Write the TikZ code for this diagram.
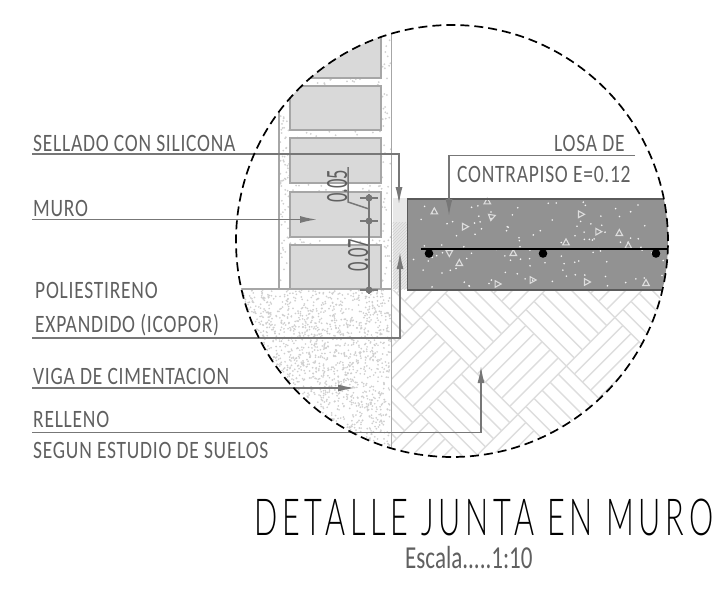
\documentclass[tikz,border=0pt]{standalone}
\usepackage{fontspec}
\usetikzlibrary{arrows.meta,patterns}
\newfontfamily\rotulofont[FakeStretch=0.78,LetterSpace=3]{Carlito}
\newfontfamily\cotafont[FakeStretch=0.6]{Carlito}
\newfontfamily\escalafont[FakeStretch=0.72]{Carlito}
\newfontfamily\titulofont[FakeStretch=0.6,LetterSpace=9.4]{Lato Light}
\definecolor{texto}{HTML}{606060}
\definecolor{guia}{HTML}{777777}
\definecolor{muro}{HTML}{A6A6A6}
\definecolor{bloque}{HTML}{D9D9D9}
\definecolor{losa}{HTML}{929292}
\definecolor{borde}{HTML}{5A5A5A}
\definecolor{suelo}{HTML}{DDDDDD}
\definecolor{punto}{HTML}{CFCFCF}
\tikzstyle{rotulo}=[anchor=base west,inner sep=0pt,text=texto,font=\rotulofont\fontsize{25}{25}\selectfont]
\tikzstyle{cota}=[rotulo,rotate=90,font=\cotafont\fontsize{31}{31}\selectfont]
\tikzstyle{escala}=[rotulo,font=\escalafont\fontsize{32}{32}\selectfont]
\tikzstyle{titulo}=[anchor=base west,inner sep=0pt,text=black,font=\titulofont\fontsize{51}{51}\selectfont]
\tikzstyle{leader}=[draw=guia,line width=1.5pt,-{Latex[length=17pt,width=7pt]}]
\tikzstyle{subraya}=[draw=guia,line width=1.5pt]
\tikzstyle{bloquemuro}=[draw=muro,fill=bloque,line width=1.7pt]
\tikzstyle{tiramuro}=[draw=muro,line width=1.7pt]
\tikzstyle{agregado}=[draw=bloque!90,line width=1.1pt]
\tikzstyle{marca}=[fill=guia,circle,inner sep=0pt,minimum size=7pt]
\begin{document}
\begin{tikzpicture}[x=1pt,y=-1pt]
    \useasboundingbox (0,0) rectangle (716,589);
    \coordinate (c0) at (452,241);

    % SUELO PART
    \begin{scope}
        \clip (391,290) rectangle (670,460);
        \clip (c0) circle (216pt);
        \foreach \i in {-3,...,4}
        \foreach \j in {-4,...,4}{
            \pgfmathtruncatemacro{\paridad}{mod(abs(\i+\j),2)}
            \begin{scope}[shift={(469.3+48.5*\i+48.5*\j,317.5+48.5*\i-48.5*\j)}]
                \ifnum\paridad=0
                    \foreach \k in {0,...,6}
                    \draw[suelo,line width=1.4pt] (-48.5+8.083*\k,-8.083*\k) -- ++(48.5,48.5);
                \else
                    \foreach \k in {0,...,6}
                    \draw[suelo,line width=1.4pt] (-48.5+8.083*\k,8.083*\k) -- ++(48.5,-48.5);
                \fi
            \end{scope}
        }
    \end{scope}

    % VIGA PART
    \pgfmathsetseed{11}
    \begin{scope}
        \clip (236,289) rectangle (391,460);
        \clip (c0) circle (216pt);
        \foreach \i in {1,...,2100}{
            \pgfmathsetmacro{\px}{237+154*rnd}
            \pgfmathsetmacro{\py}{290+170*rnd}
            \fill[punto] (\px,\py) circle (0.95pt);
        }
    \end{scope}

    % MURO PART
    \begin{scope}
        \clip (c0) circle (216pt);
        \clip (279,20) rectangle (392,289);
        \foreach \i in {1,...,800}{
            \pgfmathsetmacro{\px}{280+111*rnd}
            \pgfmathsetmacro{\py}{25+264*rnd}
            \fill[punto] (\px,\py) circle (1pt);
        }
    \end{scope}
    \begin{scope}
        \clip (c0) circle (216pt);
        \draw[bloquemuro] (290,30) rectangle (381,78);
        \draw[bloquemuro] (290,86) rectangle (381,130);
        \draw[bloquemuro] (290,138) rectangle (381,183);
        \draw[bloquemuro] (290,192) rectangle (381,237);
        \draw[bloquemuro] (290,245) rectangle (381,289);
        \draw[tiramuro] (279,20) -- (279,289);
        \draw[tiramuro] (391.5,20) -- (391.5,460);
        \draw[tiramuro] (230,289) -- (391.5,289);
    \end{scope}

    % JUNTA PART
    \fill[bloque!60] (392.5,198) rectangle (407,222);
    \fill[bloque!60] (392.5,222) rectangle (407,289);
    \fill[pattern=north east lines,pattern color=punto] (392.5,222) rectangle (407,289);

    % LOSA PART
    \begin{scope}
        \clip (c0) circle (216pt);
        \fill[losa] (407,199) rectangle (670,290);
        \pgfmathsetseed{5}
        \foreach \i in {1,...,110}{
            \pgfmathsetmacro{\px}{410+255*rnd}
            \pgfmathsetmacro{\py}{202+85*rnd}
            \fill[white!90!losa] (\px,\py) circle (0.9pt);
        }
        \foreach \x/\y/\r in {434.3/211.7/90,464.7/226.7/0,491.7/216.7/20,580.7/214.3/0,
            598/231.7/0,619.3/233.3/90,566/242.7/90,449.3/252.7/270,513.3/253.3/90,
            459.3/263.3/90,532.3/280/0,497.3/284/0,586.7/282/0,646/283.3/90,628.3/246/90,487.3/201.7/90}
            \draw[agregado,shift={(\x,\y)},rotate=\r] (3.8,0) -- (-2.2,3.3) -- (-2.2,-3.3) -- cycle;
        \draw[borde,line width=1.7pt] (670,199) -- (407.5,199) -- (407.5,290) -- (670,290);
        \draw[black,line width=1.5pt] (421,249) -- (670,249);
        \fill[black] (429,253.5) circle (4.3pt) (543,253.5) circle (4.3pt) (656,253.5) circle (4.3pt);
    \end{scope}

    % COTAS PART
    \node[marca] (m1) at (369,198) {};
    \node[marca] (m2) at (369,221) {};
    \node[marca] (m3) at (369,290) {};
    \coordinate (m0) at (369,194);
    \coordinate (m4) at (369,294);
    \coordinate (q1) at (348,167);
    \coordinate (q2) at (348,202);
    \coordinate (q3) at (369,209);
    \draw[subraya] (m0) -- (m4);
    \draw[subraya] (q1) -- (q2) -- (q3);
    \draw[subraya,shorten <=-5pt,shorten >=-5pt] (m1.west) -- (m1.east);
    \draw[subraya,shorten <=-5pt,shorten >=-5pt] (m2.west) -- (m2.east);
    \draw[subraya,shorten <=-5pt,shorten >=-5pt] (m3.west) -- (m3.east);
    \node[cota] (t05) at (347,203) {0.05};
    \node[cota] (t07) at (368,272) {0.07};

    % LEADERS PART
    \coordinate (l1a) at (32,154);
    \coordinate (l1b) at (399,154);
    \coordinate (l1c) at (399,204);
    \coordinate (l2a) at (32,219.5);
    \coordinate (l2b) at (317,219.5);
    \coordinate (l3a) at (32,338);
    \coordinate (l3b) at (400,338);
    \coordinate (l3c) at (400,252);
    \coordinate (l4a) at (32,388);
    \coordinate (l4b) at (355,388);
    \coordinate (l5a) at (32,432.5);
    \coordinate (l5b) at (481,432.5);
    \coordinate (l5c) at (481,366);
    \coordinate (l6a) at (635,155.5);
    \coordinate (l6b) at (449,155.5);
    \coordinate (l6c) at (449,216);
    \path[leader] (l1a) -- (l1b) -- (l1c);
    \path[leader] (l2a) -- (l2b);
    \path[leader] (l3a) -- (l3b) -- (l3c);
    \path[leader] (l4a) -- (l4b);
    \path[leader] (l5a) -- (l5b) -- (l5c);
    \path[leader] (l6a) -- (l6b) -- (l6c);

    % TEXTOS PART
    \node[rotulo] (t1) at (33,151) {SELLADO CON SILICONA};
    \node[rotulo] (t2) at (33,216) {MURO};
    \node[rotulo] (t3) at (35,298) {POLIESTIRENO};
    \node[rotulo] (t4) at (35,332) {EXPANDIDO (ICOPOR)};
    \node[rotulo] (t5) at (33,384) {VIGA DE CIMENTACION};
    \node[rotulo] (t6) at (33,427) {RELLENO};
    \node[rotulo] (t7) at (33,458) {SEGUN ESTUDIO DE SUELOS};
    \node[rotulo] (t8) at (554,151) {LOSA DE};
    \node[rotulo] (t9) at (457,182) {CONTRAPISO E=0.12};
    \node[titulo] (t10) at (254,535) {DETALLE JUNTA EN MURO};
    \node[escala] (t11) at (405,568) {Escala.....1:10};

    % CIRCULO PART
    \draw[black,line width=1.7pt,dash pattern=on 9pt off 5pt] (c0) circle (216pt);
\end{tikzpicture}
\end{document}
